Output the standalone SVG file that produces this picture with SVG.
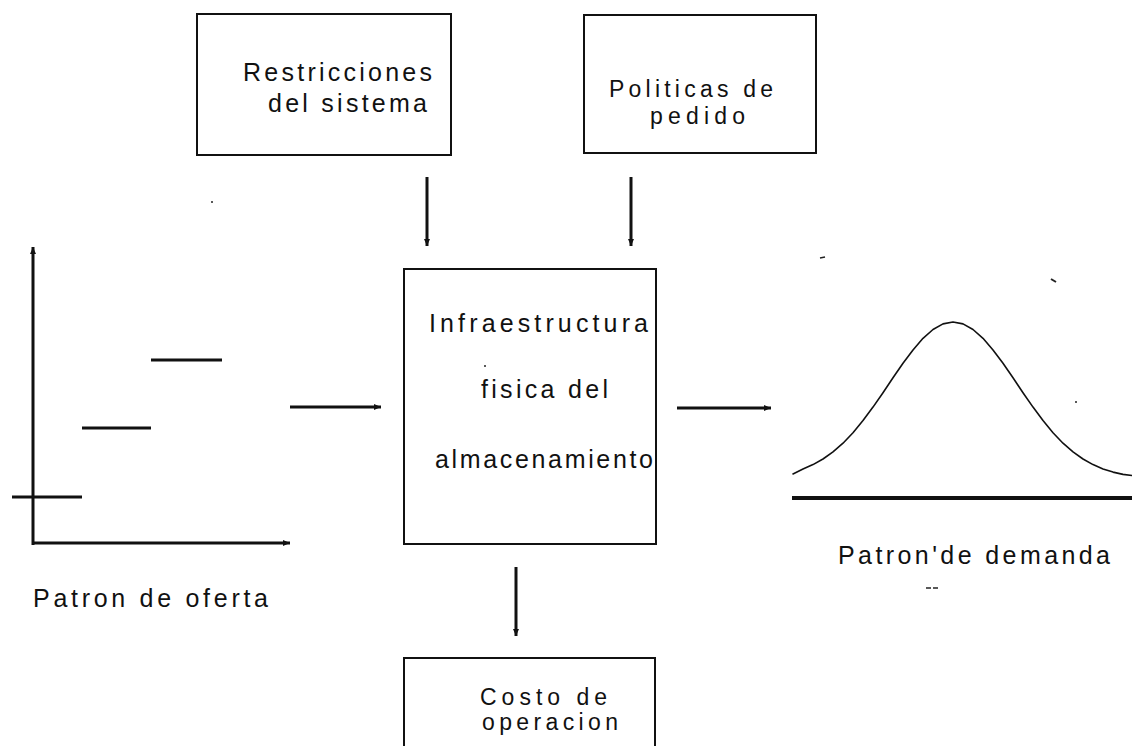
<svg xmlns="http://www.w3.org/2000/svg" width="1132" height="746" viewBox="0 0 1132 746">
<style>
.box{fill:none;stroke:#111;stroke-width:2}
.t{font-family:"Liberation Sans Narrow","Liberation Sans",Arial,sans-serif;font-size:25px;fill:#111}
.s{font-size:23px}
.thick{stroke:#111;stroke-width:3;fill:none}
.arr{stroke:#111;stroke-width:3;fill:none;marker-end:url(#ah)}
.speck{fill:#222}
</style>
<defs>
<marker id="ah" markerUnits="userSpaceOnUse" markerWidth="8" markerHeight="8" refX="7" refY="4" orient="auto">
<path d="M0,1 L7,4 L0,7 z" fill="#111"/>
</marker>
</defs>
<rect width="1132" height="746" fill="#fff"/>

<g id="restricciones">
<rect class="box" x="197" y="14" width="254" height="141"/>
<text class="t" x="243" y="81" textLength="189" lengthAdjust="spacing">Restricciones</text>
<text class="t" x="268" y="112" textLength="159" lengthAdjust="spacing">del sistema</text>
</g>

<g id="politicas">
<rect class="box" x="584" y="15" width="232" height="138"/>
<text class="t s" x="609" y="97" textLength="164" lengthAdjust="spacing">Politicas de</text>
<text class="t s" x="650" y="124" textLength="95" lengthAdjust="spacing">pedido</text>
</g>

<g id="infraestructura">
<rect class="box" x="404" y="269" width="252" height="275"/>
<text class="t" x="429" y="332" textLength="219" lengthAdjust="spacing">Infraestructura</text>
<text class="t" x="481" y="398" textLength="127" lengthAdjust="spacing">fisica del</text>
<text class="t" x="435" y="468" textLength="218" lengthAdjust="spacing">almacenamiento</text>
<circle class="speck" cx="485" cy="366" r="1"/>
</g>

<g id="costo">
<rect class="box" x="404" y="658" width="251" height="110"/>
<text class="t s" x="480" y="705" textLength="127" lengthAdjust="spacing">Costo de</text>
<text class="t s" x="482" y="730" textLength="136" lengthAdjust="spacing">operacion</text>
</g>

<g id="patron-oferta">
<line class="arr" x1="33" y1="545" x2="33" y2="247"/>
<line class="arr" x1="32" y1="543" x2="290" y2="543"/>
<line class="thick" x1="12" y1="497" x2="82" y2="497"/>
<line class="thick" x1="82" y1="428" x2="151" y2="428"/>
<line class="thick" x1="151" y1="360" x2="222" y2="360"/>
<text class="t" x="33" y="607" textLength="235" lengthAdjust="spacing">Patron de oferta</text>
</g>

<g id="patron-demanda">
<polyline fill="none" stroke="#111" stroke-width="1.6" stroke-linejoin="round" stroke-linecap="round" points="793,474 803,469 813,464.6 823,459 833,451.9 843,443.2 853,432.7 863,420.6 873,407.1 883,392.7 893,377.8 903,363.3 913,349.9 923,338.3 933,329.5 943,323.9 953,322 963,323.9 973,329.5 983,338.3 993,349.9 1003,363.3 1013,377.8 1023,392.7 1033,407.1 1043,420.6 1053,432.7 1063,443.2 1073,451.9 1083,459 1093,464.6 1103,468.9 1113,472.1 1123,474.4 1132,475.5"/>
<line stroke="#111" stroke-width="4" x1="792" y1="498" x2="1132" y2="498"/>
<text class="t" x="838" y="564" textLength="272" lengthAdjust="spacing">Patron'de demanda</text>
<line stroke="#222" stroke-width="1.5" x1="926" y1="588" x2="931" y2="588"/>
<line stroke="#222" stroke-width="1.5" x1="933" y1="588" x2="938" y2="588"/>
</g>

<g id="connectors">
<line class="arr" x1="427" y1="177" x2="427" y2="246"/>
<line class="arr" x1="631" y1="177" x2="631" y2="246"/>
<line class="arr" x1="290" y1="407" x2="381" y2="407"/>
<line class="arr" x1="677" y1="408" x2="771" y2="408"/>
<line class="arr" x1="516" y1="567" x2="516" y2="636"/>
</g>

<g id="specks">
<circle class="speck" cx="212" cy="202" r="1"/>
<line stroke="#222" stroke-width="2" x1="1051" y1="279" x2="1056" y2="282"/>
<circle class="speck" cx="1076" cy="402" r="1"/>
<line stroke="#222" stroke-width="1.5" x1="820" y1="258" x2="825" y2="257"/>
</g>
</svg>
